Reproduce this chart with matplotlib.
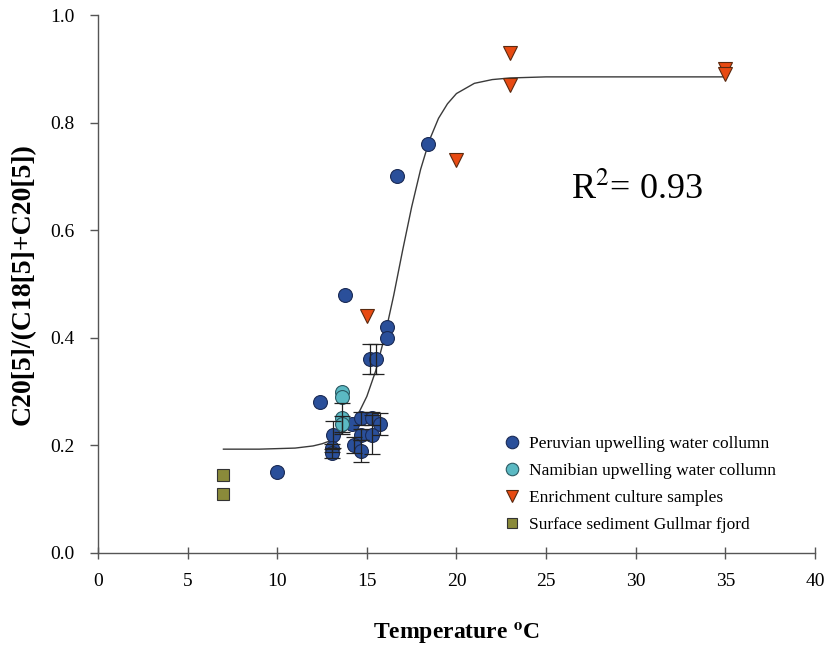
import matplotlib
matplotlib.use("Agg")
import matplotlib.pyplot as plt
from matplotlib.ticker import FormatStrFormatter

plt.rcParams['font.family'] = ['Liberation Serif', 'DejaVu Serif']
plt.rcParams['mathtext.fontset'] = 'stix'

# ---- data ----
peru_x = [10.0, 12.4, 13.8, 16.7, 18.4, 16.1, 16.1, 15.2, 15.5,
          13.1, 13.05, 13.05, 14.2, 14.7, 15.3, 15.75, 14.7, 15.3, 14.3, 14.7]
peru_y = [0.15, 0.28, 0.48, 0.70, 0.76, 0.42, 0.40, 0.36, 0.36,
          0.22, 0.195, 0.185, 0.24, 0.25, 0.25, 0.24, 0.22, 0.22, 0.20, 0.19]
peru_err = [0, 0, 0, 0, 0, 0, 0, 0.028, 0.028,
            0.025, 0.008, 0.008, 0, 0.012, 0.012, 0.02, 0.01, 0.036, 0.015, 0.02]

nam_x = [13.6, 13.6, 13.6, 13.6]
nam_y = [0.30, 0.29, 0.25, 0.24]
nam_err = [0, 0, 0.028, 0.015]

enr_x = [15.0, 20.0, 23.0, 23.0, 35.0, 35.0]
enr_y = [0.44, 0.73, 0.93, 0.87, 0.90, 0.89]

sed_x = [7.0, 7.0]
sed_y = [0.145, 0.11]
sed_err = [0.008, 0.008]

fit_x = [7, 8, 9, 10, 11, 12, 12.5, 13, 13.5, 14, 14.5, 15, 15.5, 16, 16.5,
         17, 17.5, 18, 18.5, 19, 19.5, 20, 21, 22, 23, 25, 30, 35]
fit_y = [0.193, 0.193, 0.193, 0.194, 0.195, 0.199, 0.203, 0.209, 0.219, 0.233,
         0.257, 0.291, 0.339, 0.403, 0.479, 0.563, 0.643, 0.713, 0.768, 0.808,
         0.835, 0.854, 0.873, 0.880, 0.883, 0.885, 0.885, 0.885]

labels = ["Peruvian upwelling water collumn", "Namibian upwelling water collumn",
          "Enrichment culture samples", "Surface sediment Gullmar fjord"]
x_ticks = [0, 5, 10, 15, 20, 25, 30, 35, 40]
y_ticks = [0.0, 0.2, 0.4, 0.6, 0.8, 1.0]

# ---- figure ----
fig = plt.figure(figsize=(8.26, 6.47), dpi=100)
ax = fig.add_axes([0.1186, 0.1453, 0.8680, 0.8315])

ax.plot(fit_x, fit_y, color='#3a3a3a', lw=1.0, zorder=1)

c_peru, e_peru = '#2A4F9A', '#1b2b55'
c_nam, e_nam = '#5BB9C3', '#2b5a63'
c_enr, e_enr = '#E84A12', '#5a2a10'
c_sed, e_sed = '#8A8A3A', '#333333'

ax.plot(peru_x, peru_y, 'o', ms=10, mfc=c_peru, mec=e_peru, mew=0.8, zorder=3,
        label=labels[0])
ax.plot(nam_x, nam_y, 'o', ms=10, mfc=c_nam, mec=e_nam, mew=0.8, zorder=3,
        label=labels[1])
ax.plot(enr_x, enr_y, 'v', ms=9.5, mfc=c_enr, mec=e_enr, mew=0.8, zorder=3,
        label=labels[2])
ax.plot(sed_x, sed_y, 's', ms=8, mfc=c_sed, mec=e_sed, mew=0.8, zorder=3,
        label=labels[3])


def with_err(xs, ys, es):
    keep = [i for i, e in enumerate(es) if e > 0]
    return ([xs[i] for i in keep], [ys[i] for i in keep], [es[i] for i in keep])


ekw = dict(fmt='none', ecolor='#222222', elinewidth=0.9, capsize=5.5,
           capthick=0.9, zorder=4)
px, py, pe = with_err(peru_x, peru_y, peru_err)
ax.errorbar(px, py, yerr=pe, **ekw)
nx, ny, ne = with_err(nam_x, nam_y, nam_err)
ax.errorbar(nx, ny, yerr=ne, **ekw)
ax.errorbar(sed_x, sed_y, yerr=sed_err, fmt='none', ecolor='#222222',
            elinewidth=0.8, capsize=2, zorder=2)

ax.set_xlim(0, 40)
ax.set_ylim(0, 1.0)
ax.set_xticks(x_ticks)
ax.set_yticks(y_ticks)
ax.yaxis.set_major_formatter(FormatStrFormatter('%.1f'))

for s in ['top', 'right']:
    ax.spines[s].set_visible(False)
for s in ['left', 'bottom']:
    ax.spines[s].set_color('#555555')
    ax.spines[s].set_linewidth(1.0)

ax.tick_params(axis='y', direction='out', length=6, width=1, color='#555555',
               labelsize=14, pad=11)
ax.tick_params(axis='x', direction='inout', length=9, width=1, color='#555555',
               labelsize=14, pad=10)

ax.set_xlabel('Temperature $^{\\mathbf{o}}$C', fontsize=17, fontweight='bold',
              labelpad=22)
ax.set_ylabel('C20[5]/(C18[5]+C20[5])', fontsize=20, fontweight='bold',
              labelpad=10)

ax.text(30.1, 0.675, 'R$^{2}$= 0.93', fontsize=26, ha='center', va='center')

leg = ax.legend(loc='upper left', bbox_to_anchor=(0.565, 0.218), frameon=False,
                fontsize=12.5, handlelength=1.0, handletextpad=0.5,
                labelspacing=0.62, borderpad=0, borderaxespad=0,
                markerscale=0.9)

fig.savefig('out.png', dpi=100)
